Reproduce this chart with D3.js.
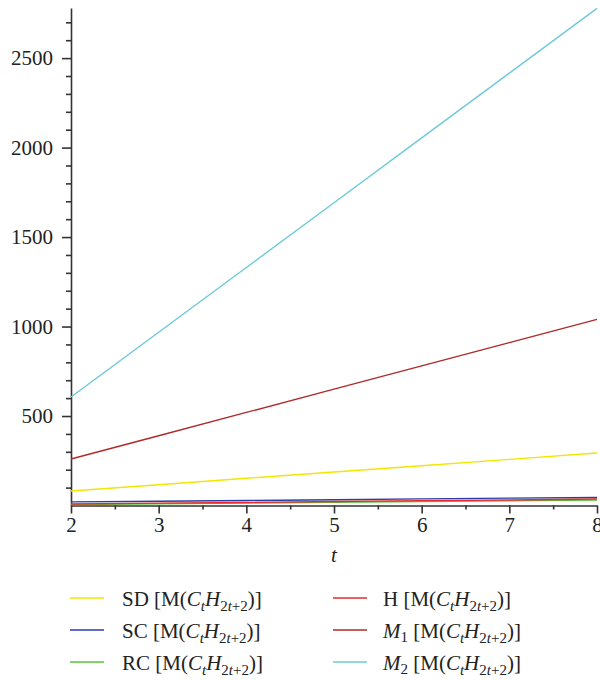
<!DOCTYPE html>
<html><head><meta charset="utf-8">
<script src="https://cdn.jsdelivr.net/npm/d3@7"></script>
<style>body{margin:0;background:#fff}svg{display:block}</style>
</head><body>
<svg id="chart" width="600" height="680"></svg>
<script>
const tValues = [2, 3, 4, 5, 6, 7, 8];
const seriesNames = ["SD", "SC", "RC", "H", "M1", "M2"];
const sdValues = [81, 116, 152, 187, 222, 258, 293];
const scValues = [20, 24, 28, 32, 37, 41, 45];
const rcValues = [6, 10, 14, 18, 22, 26, 30];
const hValues = [8, 13, 17, 22, 27, 31, 36];
const m1Values = [260, 390, 520, 650, 780, 910, 1040];
const m2Values = [606, 968, 1330, 1692, 2054, 2416, 2778];
const seriesColors = ["#f2e600", "#2a3dab", "#58c23a", "#e82a2a", "#b02a2a", "#6ccad8"];
const yMajorTicks = [500, 1000, 1500, 2000, 2500];
const xMajorTicks = [2, 3, 4, 5, 6, 7, 8];

const allValues = [sdValues, scValues, rcValues, hValues, m1Values, m2Values];
const svg = d3.select("#chart");
const font = "'Liberation Serif', 'Times New Roman', serif";

const x = d3.scaleLinear().domain([2, 8]).range([71, 597]);
const y = d3.scaleLinear().domain([0, 2780]).range([505.5, 8]);

const axisColor = "#333";

// Y minor ticks
const yMinor = d3.range(100, 2780, 100).filter(v => v % 500 !== 0);
const gyMinor = svg.append("g").attr("transform", "translate(71,0)")
  .call(d3.axisLeft(y).tickValues(yMinor).tickSize(5).tickFormat(""));
gyMinor.select(".domain").remove();
// Y major
const gy = svg.append("g").attr("transform", "translate(71,0)")
  .call(d3.axisLeft(y).tickValues(yMajorTicks).tickSizeInner(9).tickSizeOuter(0).tickPadding(9).tickFormat(d3.format("d")));
gy.selectAll("text").attr("font-family", font).attr("font-size", 21).attr("fill", "#222");

// X minor ticks
const xMinor = d3.range(2.5, 8, 1);
const gxMinor = svg.append("g").attr("transform", "translate(0,505.5)")
  .call(d3.axisBottom(x).tickValues(xMinor).tickSize(4).tickFormat(""));
gxMinor.select(".domain").remove();
const gx = svg.append("g").attr("transform", "translate(0,505.5)")
  .call(d3.axisBottom(x).tickValues(xMajorTicks).tickSizeInner(8).tickSizeOuter(0).tickPadding(4).tickFormat(d3.format("d")));
gx.selectAll("text").attr("font-family", font).attr("font-size", 21).attr("fill", "#222");

svg.selectAll(".domain, .tick line").attr("stroke", axisColor).attr("stroke-width", 1.6);

svg.append("text").attr("x", 334).attr("y", 562).attr("text-anchor", "middle")
  .attr("font-family", font).attr("font-size", 21).attr("font-style", "italic").attr("fill", "#222").text("t");

// Lines
const line = d3.line().x((d, i) => x(tValues[i])).y(d => y(d));
const drawOrder = [5, 4, 0, 2, 1, 3];
drawOrder.forEach(k => {
  svg.append("path").datum(allValues[k]).attr("d", line)
    .attr("fill", "none").attr("stroke", seriesColors[k]).attr("stroke-width", 1.4);
});

// Legend
const legendPos = [
  {lx: 70, tx: 122, ly: 598}, {lx: 70, tx: 122, ly: 630}, {lx: 70, tx: 122, ly: 662},
  {lx: 333, tx: 383, ly: 598}, {lx: 333, tx: 383, ly: 630}, {lx: 333, tx: 383, ly: 662}
];
seriesNames.forEach((name, k) => {
  const p = legendPos[k];
  svg.append("line").attr("x1", p.lx).attr("x2", p.lx + 34).attr("y1", p.ly).attr("y2", p.ly)
    .attr("stroke", seriesColors[k]).attr("stroke-width", 1.6);
  const t = svg.append("text").attr("x", p.tx).attr("y", p.ly + 8)
    .attr("font-family", font).attr("font-size", 21).attr("fill", "#222");
  if (name.startsWith("M")) {
    t.append("tspan").attr("font-style", "italic").text("M");
    t.append("tspan").attr("font-size", 15).attr("dy", 4).text(name.slice(1));
    t.append("tspan").attr("dy", -4).text(" [M(");
  } else {
    t.append("tspan").text(name + " [M(");
  }
  t.append("tspan").attr("font-style", "italic").text("C");
  t.append("tspan").attr("font-style", "italic").attr("font-size", 15).attr("dy", 5).text("t");
  t.append("tspan").attr("font-style", "italic").attr("dy", -5).text("H");
  const sub = t.append("tspan").attr("font-size", 15).attr("dy", 5);
  sub.append("tspan").text("2");
  sub.append("tspan").attr("font-style", "italic").text("t");
  sub.append("tspan").text("+2");
  t.append("tspan").attr("dy", -5).text(")]");
});
</script>
</body></html>
